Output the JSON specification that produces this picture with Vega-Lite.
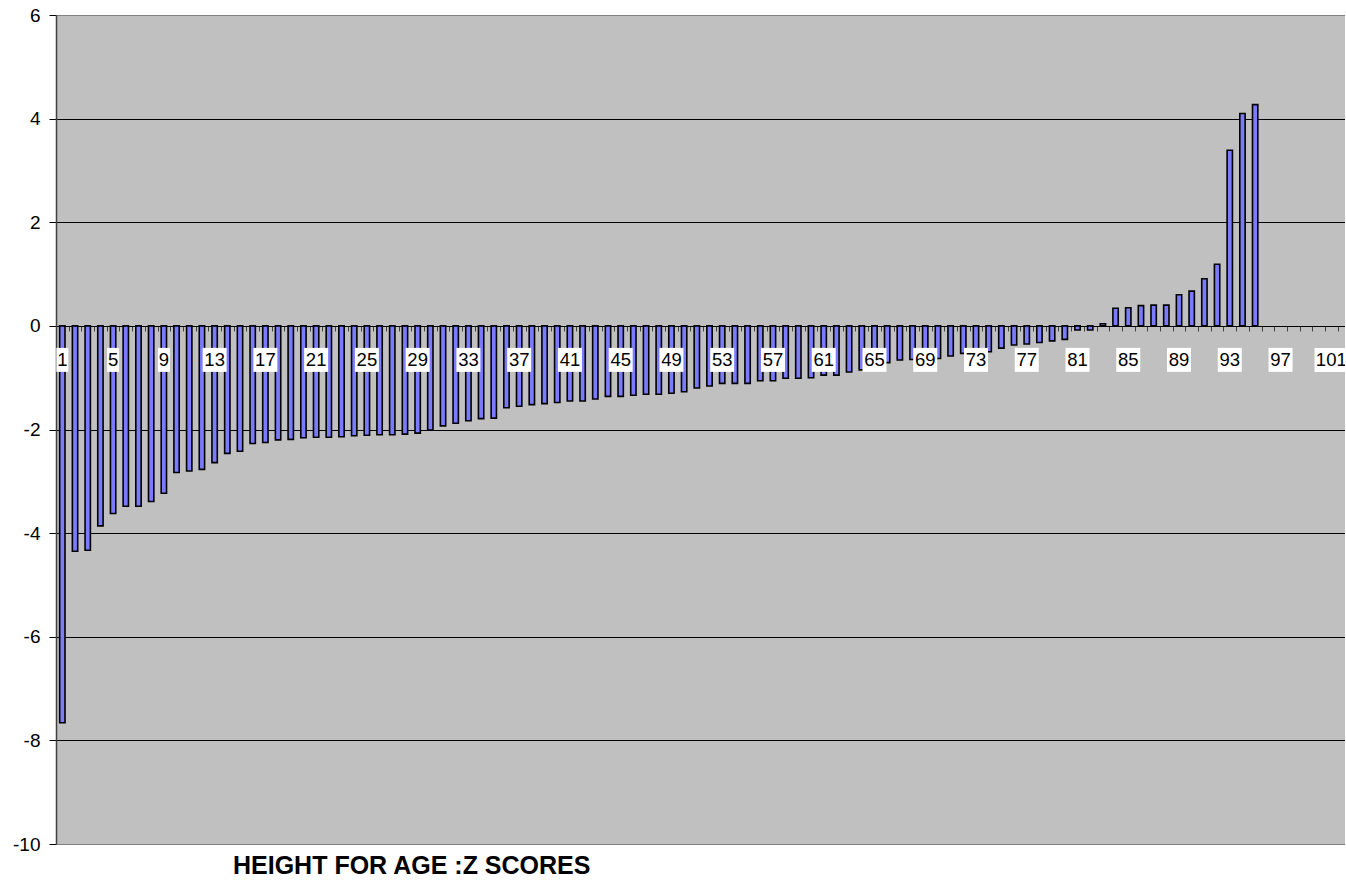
{
  "$schema": "https://vega.github.io/schema/vega-lite/v6.json",
  "width": 1289,
  "height": 829,
  "autosize": {"type": "none"},
  "padding": {"left": 56, "top": 15, "right": 0, "bottom": 45},
  "background": "white",
  "config": {"view": {"fill": "#C0C0C0", "stroke": null}, "font": "Liberation Sans"},
  "title": {"text": "HEIGHT FOR  AGE :Z SCORES", "orient": "bottom", "anchor": "start", "frame": "group", "dx": 177, "offset": 0, "fontSize": 25, "fontWeight": "bold", "font": "Liberation Sans", "color": "black"},
  "data": {"values": [
    {"n":1,"z":-7.66},{"n":2,"z":-4.35},{"n":3,"z":-4.33},{"n":4,"z":-3.86},{"n":5,"z":-3.62},
    {"n":6,"z":-3.48},{"n":7,"z":-3.48},{"n":8,"z":-3.39},{"n":9,"z":-3.23},{"n":10,"z":-2.83},
    {"n":11,"z":-2.80},{"n":12,"z":-2.77},{"n":13,"z":-2.64},{"n":14,"z":-2.46},{"n":15,"z":-2.42},
    {"n":16,"z":-2.27},{"n":17,"z":-2.25},{"n":18,"z":-2.20},{"n":19,"z":-2.19},{"n":20,"z":-2.16},
    {"n":21,"z":-2.15},{"n":22,"z":-2.15},{"n":23,"z":-2.14},{"n":24,"z":-2.12},{"n":25,"z":-2.11},
    {"n":26,"z":-2.10},{"n":27,"z":-2.10},{"n":28,"z":-2.09},{"n":29,"z":-2.07},{"n":30,"z":-2.01},
    {"n":31,"z":-1.93},{"n":32,"z":-1.88},{"n":33,"z":-1.83},{"n":34,"z":-1.79},{"n":35,"z":-1.78},
    {"n":36,"z":-1.58},{"n":37,"z":-1.55},{"n":38,"z":-1.52},{"n":39,"z":-1.50},{"n":40,"z":-1.48},
    {"n":41,"z":-1.45},{"n":42,"z":-1.45},{"n":43,"z":-1.41},{"n":44,"z":-1.36},{"n":45,"z":-1.36},
    {"n":46,"z":-1.34},{"n":47,"z":-1.32},{"n":48,"z":-1.32},{"n":49,"z":-1.30},{"n":50,"z":-1.27},
    {"n":51,"z":-1.20},{"n":52,"z":-1.16},{"n":53,"z":-1.11},{"n":54,"z":-1.11},{"n":55,"z":-1.11},
    {"n":56,"z":-1.06},{"n":57,"z":-1.06},{"n":58,"z":-1.01},{"n":59,"z":-1.01},{"n":60,"z":-1.00},
    {"n":61,"z":-0.95},{"n":62,"z":-0.95},{"n":63,"z":-0.89},{"n":64,"z":-0.85},{"n":65,"z":-0.78},
    {"n":66,"z":-0.71},{"n":67,"z":-0.66},{"n":68,"z":-0.65},{"n":69,"z":-0.63},{"n":70,"z":-0.63},
    {"n":71,"z":-0.58},{"n":72,"z":-0.53},{"n":73,"z":-0.51},{"n":74,"z":-0.50},{"n":75,"z":-0.43},
    {"n":76,"z":-0.37},{"n":77,"z":-0.35},{"n":78,"z":-0.32},{"n":79,"z":-0.29},{"n":80,"z":-0.26},
    {"n":81,"z":-0.08},{"n":82,"z":-0.08},{"n":83,"z":0.04},{"n":84,"z":0.34},{"n":85,"z":0.35},
    {"n":86,"z":0.39},{"n":87,"z":0.40},{"n":88,"z":0.40},{"n":89,"z":0.60},{"n":90,"z":0.67},
    {"n":91,"z":0.91},{"n":92,"z":1.19},{"n":93,"z":3.39},{"n":94,"z":4.10},{"n":95,"z":4.27},
    {"n":96,"z":null},{"n":97,"z":null},{"n":98,"z":null},{"n":99,"z":null},{"n":100,"z":null},{"n":101,"z":null}
  ]},
  "encoding": {
    "x": {
      "field": "n", "type": "ordinal",
      "scale": {"domain": [1,2,3,4,5,6,7,8,9,10,11,12,13,14,15,16,17,18,19,20,21,22,23,24,25,26,27,28,29,30,31,32,33,34,35,36,37,38,39,40,41,42,43,44,45,46,47,48,49,50,51,52,53,54,55,56,57,58,59,60,61,62,63,64,65,66,67,68,69,70,71,72,73,74,75,76,77,78,79,80,81,82,83,84,85,86,87,88,89,90,91,92,93,94,95,96,97,98,99,100,101], "paddingInner": 0, "paddingOuter": 0.29, "align": 0},
      "axis": {"orient": "bottom", "offset": -518, "labels": false, "title": null, "ticks": true, "tickSize": 5, "tickColor": "#404040", "domainColor": "black", "domainWidth": 1, "tickBand": "extent", "grid": false}
    }
  },
  "layer": [
    {
      "mark": {"type": "bar", "width": {"band": 0.42}, "fill": "#7B7BFF", "stroke": "black", "strokeWidth": 1.6},
      "encoding": {
        "y": {
          "field": "z", "type": "quantitative",
          "scale": {"domain": [-10, 6], "nice": false, "zero": false},
          "axis": {"values": [-10,-8,-6,-4,-2,0,2,4,6], "labelExpr": "datum.value + ''", "title": null, "grid": true, "gridColor": {"condition": {"test": "datum.value === -10 || datum.value === 6", "value": "#808080"}, "value": "black"}, "gridWidth": 1, "tickSize": 7, "tickColor": "black", "labelFontSize": 19, "labelPadding": 9, "labelColor": "black", "domainColor": "#404040", "domainWidth": 1.5, "labelFont": "Liberation Sans"}
        }
      }
    },
    {
      "transform": [{"filter": "datum.n % 4 == 1 && datum.n < 10"}],
      "mark": {"type": "point", "shape": "M-0.5,-1H0.5V1H-0.5Z", "size": 576, "filled": true, "fill": "white", "opacity": 1, "strokeWidth": 0, "yOffset": 34},
      "encoding": {"y": {"datum": 0}}
    },
    {
      "transform": [{"filter": "datum.n % 4 == 1 && datum.n >= 10 && datum.n < 100"}],
      "mark": {"type": "point", "shape": "M-1,-1H1V1H-1Z", "size": 576, "filled": true, "fill": "white", "opacity": 1, "strokeWidth": 0, "yOffset": 34},
      "encoding": {"y": {"datum": 0}}
    },
    {
      "transform": [{"filter": "datum.n % 4 == 1 && datum.n >= 100"}],
      "mark": {"type": "point", "shape": "M-1.4,-1H1.4V1H-1.4Z", "size": 576, "filled": true, "fill": "white", "opacity": 1, "strokeWidth": 0, "yOffset": 34},
      "encoding": {"y": {"datum": 0}}
    },
    {
      "transform": [{"filter": "datum.n % 4 == 1"}],
      "mark": {"type": "text", "fontSize": 18.5, "font": "Liberation Sans", "yOffset": 34, "baseline": "middle", "align": "center", "color": "black"},
      "encoding": {"y": {"datum": 0}, "text": {"field": "n", "type": "nominal"}}
    }
  ]
}
